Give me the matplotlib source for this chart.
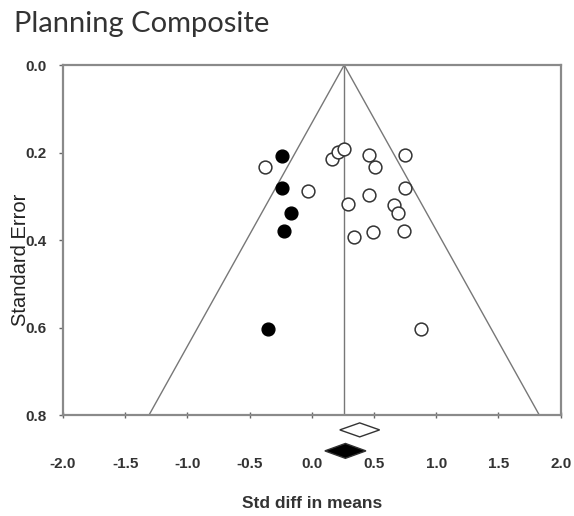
import matplotlib
matplotlib.use("Agg")
import matplotlib.pyplot as plt
import numpy as np

# ---- data ----
observed_x = [-0.38, -0.03, 0.16, 0.21, 0.26, 0.46, 0.51, 0.75, 0.75, 0.46,
              0.29, 0.66, 0.69, 0.49, 0.34, 0.74, 0.88]
observed_se = [0.233, 0.288, 0.214, 0.199, 0.191, 0.206, 0.233, 0.206, 0.280, 0.296,
               0.317, 0.321, 0.339, 0.382, 0.394, 0.379, 0.604]
imputed_x = [-0.24, -0.24, -0.17, -0.22, -0.35]
imputed_se = [0.207, 0.280, 0.338, 0.379, 0.604]
funnel_center = 0.26
se_max = 0.8
observed_summary = (0.385, 0.16)   # (point estimate, half width)
adjusted_summary = (0.27, 0.165)
xticks = [-2.0, -1.5, -1.0, -0.5, 0.0, 0.5, 1.0, 1.5, 2.0]
yticks = [0.0, 0.2, 0.4, 0.6, 0.8]

fig = plt.figure(figsize=(5.74, 5.16), dpi=100)
ax = fig.add_axes([0.1096, 0.1957, 0.8672, 0.6783])

grey = "#8a8a8a"
# funnel
ax.plot([funnel_center - 1.96 * se_max, funnel_center, funnel_center + 1.96 * se_max],
        [se_max, 0, se_max], color="#777777", lw=1.0, zorder=1)
ax.plot([funnel_center, funnel_center], [0, se_max], color="#777777", lw=1.0, zorder=1)

ax.plot(observed_x, observed_se, "o", ms=9.2, mfc="white", mec="#333333", mew=1.1,
        linestyle="none", zorder=3)
ax.plot(imputed_x, imputed_se, "o", ms=9.2, mfc="black", mec="black", mew=1.0,
        linestyle="none", zorder=3)

# summary diamonds below the axis
def diamond(center, half, y, h, face):
    xs = [center - half, center, center + half, center, center - half]
    ys = [y, y - h, y, y + h, y]
    ax.fill(xs, ys, facecolor=face, edgecolor="#333333", lw=1.0, clip_on=False, zorder=4)

diamond(observed_summary[0], observed_summary[1], 0.834, 0.016, "white")
diamond(adjusted_summary[0], adjusted_summary[1], 0.882, 0.017, "black")

ax.set_xlim(-2.0, 2.0)
ax.set_ylim(0.8, 0.0)
ax.set_xticks(xticks)
ax.set_xticklabels([f"{v:.1f}" for v in xticks])
ax.set_yticks(yticks)
ax.set_yticklabels([f"{v:.1f}" for v in yticks])

for s in ax.spines.values():
    s.set_color(grey)
    s.set_linewidth(1.6)

ax.tick_params(axis="x", direction="inout", length=4, width=1.0, color="#666666",
               pad=28, labelsize=11, labelcolor="#333333")
ax.tick_params(axis="y", direction="out", length=3, width=1.0, color="#666666",
               pad=9, labelsize=11, labelcolor="#333333")
for lab in ax.get_xticklabels() + ax.get_yticklabels():
    lab.set_fontweight("bold")
    lab.set_family("Liberation Sans")

ax.set_xlabel("Std diff in means", fontsize=12.5, fontweight="bold",
              family="Liberation Sans", color="#333333")
ax.xaxis.set_label_coords(0.5, -0.232)
ax.set_ylabel("Standard Error", fontsize=14.5, family="Liberation Sans", color="#222222")
ax.yaxis.set_label_coords(-0.066, 0.443)

fig.text(14 / 574, 1 - 32 / 516, "Planning Composite", fontsize=21, family="Lato",
         color="#333333", ha="left", va="baseline")

fig.savefig("out.png", dpi=100)
